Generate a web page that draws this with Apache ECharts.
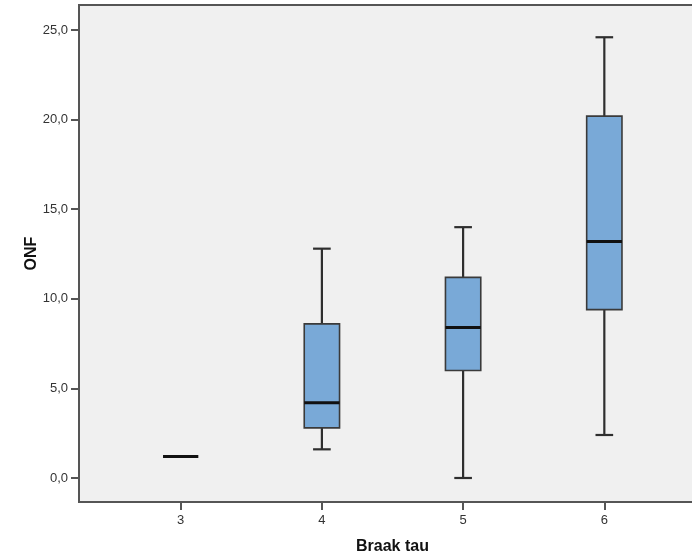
<!DOCTYPE html>
<html>
<head>
<meta charset="utf-8">
<script src="https://cdn.jsdelivr.net/npm/echarts@6/dist/echarts.min.js"></script>
<style>
  html, body { margin: 0; padding: 0; background: #ffffff; }
  #chart { width: 692px; height: 558px; }
</style>
</head>
<body>
<div id="chart"></div>
<script>
// Braak tau stage vs ONF: five-number summaries per group
const categories = [3, 4, 5, 6];
const whiskerLow = [1.2, 1.6, 0.0, 2.4];
const q1 = [1.2, 2.8, 6.0, 9.4];
const median = [1.2, 4.2, 8.4, 13.2];
const q3 = [1.2, 8.6, 11.2, 20.2];
const whiskerHigh = [1.2, 12.8, 14.0, 24.6];
const yTicks = [0, 5, 10, 15, 20, 25];

const boxData = categories.map((c, i) => [c, whiskerLow[i], q1[i], median[i], q3[i], whiskerHigh[i]]);

const chart = echarts.init(document.getElementById('chart'), null, { renderer: 'canvas' });

function renderBox(params, api) {
  const x = api.value(0);
  const lo = api.coord([x, api.value(1)]);
  const b1 = api.coord([x, api.value(2)]);
  const md = api.coord([x, api.value(3)]);
  const b3 = api.coord([x, api.value(4)]);
  const hi = api.coord([x, api.value(5)]);
  const w = api.size([0.25, 0])[0];
  const cx = lo[0];
  const half = w / 2;
  const cap = w / 4;
  const lineStyle = { stroke: '#2e2e2e', lineWidth: 2.2 };
  const children = [];
  if (api.value(2) !== api.value(4)) {
    children.push(
      { type: 'line', shape: { x1: cx, y1: lo[1], x2: cx, y2: b1[1] }, style: lineStyle },
      { type: 'line', shape: { x1: cx, y1: b3[1], x2: cx, y2: hi[1] }, style: lineStyle },
      { type: 'line', shape: { x1: cx - cap, y1: lo[1], x2: cx + cap, y2: lo[1] }, style: lineStyle },
      { type: 'line', shape: { x1: cx - cap, y1: hi[1], x2: cx + cap, y2: hi[1] }, style: lineStyle },
      { type: 'rect', shape: { x: cx - half, y: b3[1], width: w, height: b1[1] - b3[1] },
        style: { fill: '#79a9d7', stroke: '#3a3a3a', lineWidth: 1.6 } }
    );
  }
  children.push({ type: 'line', shape: { x1: cx - half, y1: md[1], x2: cx + half, y2: md[1] },
    style: { stroke: '#111111', lineWidth: 3 } });
  return { type: 'group', children };
}

chart.setOption({
  animation: false,
  backgroundColor: '#ffffff',
  grid: {
    left: 79, top: 5, width: 627, bottom: 56,
    outerBoundsMode: 'none',
    containLabel: false,
    show: true, backgroundColor: '#f0f0f0', borderColor: '#555555', borderWidth: 2
  },
  xAxis: {
    type: 'value',
    min: 2.28, max: 6.72,
    name: 'Braak tau',
    nameLocation: 'middle',
    nameGap: 37,
    nameMoveOverlap: false,
    nameTextStyle: { fontFamily: 'Liberation Sans', fontSize: 16, fontWeight: 'bold', color: '#111111' },
    axisLine: { show: true, onZero: false, lineStyle: { color: '#555555', width: 2 } },
    axisTick: { show: true, customValues: categories, length: 8, lineStyle: { color: '#555555', width: 2 } },
    axisLabel: { customValues: categories, fontFamily: 'Liberation Sans', fontSize: 13, color: '#333333', margin: 12 },
    splitLine: { show: false }
  },
  yAxis: {
    type: 'value',
    min: -1.34, max: 26.4,
    name: 'ONF',
    nameLocation: 'middle',
    nameRotate: 90,
    nameGap: 39.5,
    nameMoveOverlap: false,
    nameTextStyle: { fontFamily: 'Liberation Sans', fontSize: 16, fontWeight: 'bold', color: '#111111' },
    axisLine: { show: true, onZero: false, lineStyle: { color: '#555555', width: 2 } },
    axisTick: { show: true, customValues: yTicks, length: 8, lineStyle: { color: '#555555', width: 2 } },
    axisLabel: {
      customValues: yTicks,
      fontFamily: 'Liberation Sans', fontSize: 13, color: '#333333', margin: 11,
      formatter: v => v.toFixed(1).replace('.', ',')
    },
    splitLine: { show: false }
  },
  series: [{
    type: 'custom',
    renderItem: renderBox,
    encode: { x: 0, y: [1, 2, 3, 4, 5] },
    data: boxData,
    clip: false
  }]
});
</script>
</body>
</html>
